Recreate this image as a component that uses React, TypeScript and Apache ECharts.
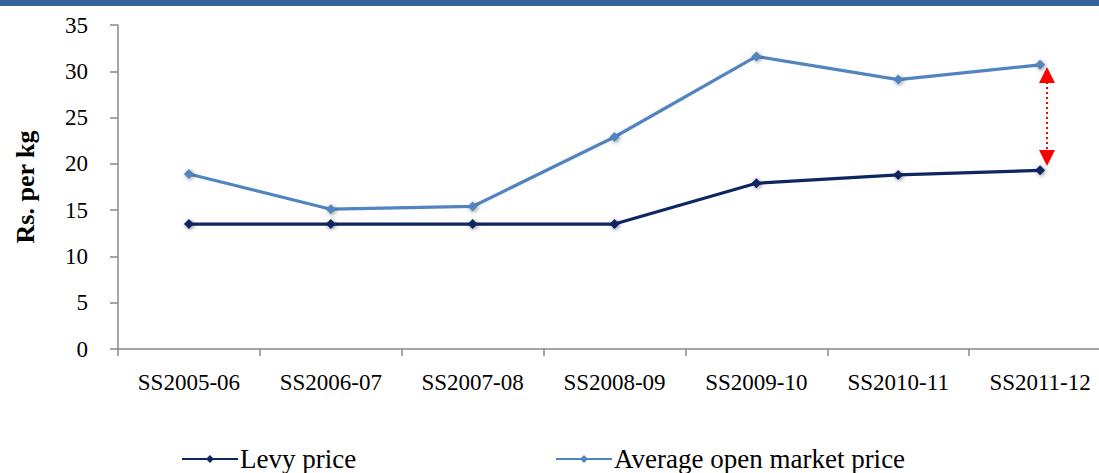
import React, { useEffect, useRef } from "react";
import * as echarts from "echarts";

const categories = ["SS2005-06", "SS2006-07", "SS2007-08", "SS2008-09", "SS2009-10", "SS2010-11", "SS2011-12"];
const levyPrice = [13.5, 13.5, 13.5, 13.5, 17.9, 18.8, 19.3];
const openMarketPrice = [18.9, 15.1, 15.4, 22.9, 31.6, 29.1, 30.7];
const seriesNames = ["Levy price", "Average open market price"];
const yTicks = { min: 0, max: 35, interval: 5 };

const SERIF = "Liberation Serif";

export default function App() {
  const ref = useRef<HTMLDivElement>(null);
  useEffect(() => {
    if (!ref.current) return;
    const chart = echarts.init(ref.current, undefined, { renderer: "svg" });
    const shadow = { shadowBlur: 4, shadowColor: "rgba(0,0,0,0.45)", shadowOffsetX: 1, shadowOffsetY: 1 };
    const legendBase = {
      top: 445,
      padding: 0,
      itemWidth: 56,
      itemHeight: 10,
      textStyle: { color: "#000000", fontFamily: SERIF, fontSize: 27, lineHeight: 28, padding: [0, 0, 0, -3] },
    };
    chart.setOption({
      animation: false,
      backgroundColor: "#ffffff",
      grid: { left: 118, top: 25, right: 0, height: 324, containLabel: false },
      xAxis: {
        type: "category",
        data: categories,
        boundaryGap: true,
        axisLine: { lineStyle: { color: "#888888", width: 1.5 } },
        axisTick: { show: true, length: 7, lineStyle: { color: "#888888", width: 1.5 } },
        axisLabel: { color: "#000000", fontFamily: SERIF, fontSize: 23, margin: 22 },
      },
      yAxis: {
        type: "value",
        min: yTicks.min,
        max: yTicks.max,
        interval: yTicks.interval,
        name: "Rs. per kg",
        nameLocation: "middle",
        nameGap: 80,
        nameRotate: 90,
        nameTextStyle: { color: "#000000", fontFamily: SERIF, fontSize: 26, fontWeight: "bold" },
        axisLine: { show: true, lineStyle: { color: "#888888", width: 1.5 } },
        axisTick: { show: true, length: 8, lineStyle: { color: "#888888", width: 1.5 } },
        splitLine: { show: false },
        axisLabel: { color: "#000000", fontFamily: SERIF, fontSize: 23, margin: 30 },
      },
      legend: [
        { ...legendBase, data: [seriesNames[0]], left: 181 },
        { ...legendBase, data: [seriesNames[1]], left: 555 },
      ],
      series: [
        {
          name: seriesNames[0],
          type: "line",
          data: levyPrice,
          symbol: "diamond",
          symbolSize: 10,
          lineStyle: { color: "#0E2762", width: 3.2 },
          itemStyle: { color: "#0E2762", ...shadow },
        },
        {
          name: seriesNames[1],
          type: "line",
          data: openMarketPrice,
          symbol: "diamond",
          symbolSize: 10,
          lineStyle: { color: "#5284C1", width: 3.2 },
          itemStyle: { color: "#5284C1", ...shadow },
        },
      ],
      graphic: [
        { type: "rect", shape: { x: 0, y: 0, width: 1111, height: 6 }, style: { fill: "#35639A" } },
        {
          type: "line",
          shape: { x1: 1047, y1: 82, x2: 1047, y2: 151 },
          style: { stroke: "#FF0000", lineWidth: 2, lineDash: [2, 3] },
        },
        {
          type: "polygon",
          shape: { points: [[1039, 83], [1055, 83], [1047, 67]] },
          style: { fill: "#FF0000" },
        },
        {
          type: "polygon",
          shape: { points: [[1039, 150], [1055, 150], [1047, 166]] },
          style: { fill: "#FF0000" },
        },
      ],
    });
    return () => chart.dispose();
  }, []);
  return <div ref={ref} style={{ position: "fixed", left: 0, top: 0, width: 1111, height: 473 }} />;
}
